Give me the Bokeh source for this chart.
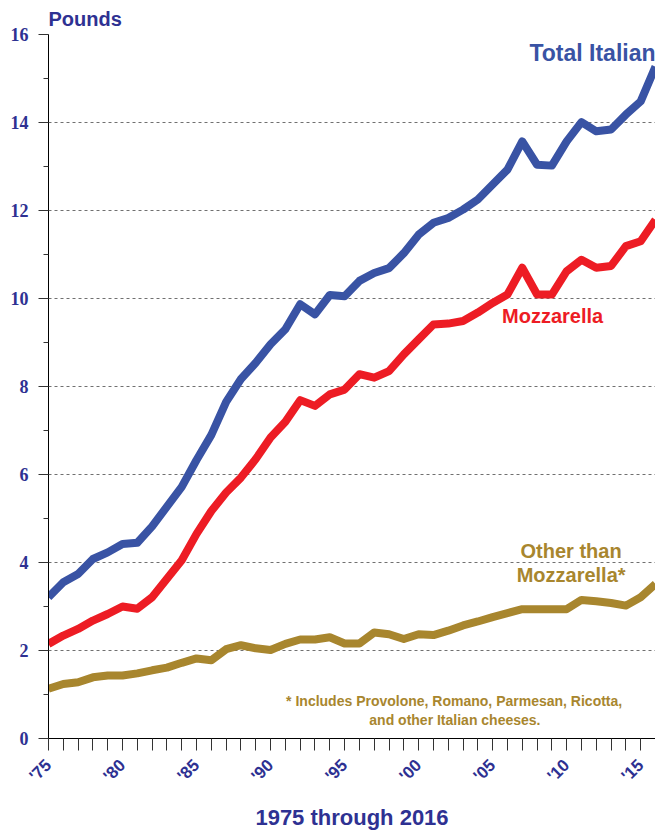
import math
from bokeh.plotting import figure
from bokeh.models import FixedTicker, SingleIntervalTicker, Label, Range1d
from bokeh.embed import file_html
from bokeh.resources import INLINE

# ---- data (pounds per person) ----
years = list(range(1975, 2017))
total_italian = [3.21, 3.55, 3.74, 4.08, 4.23, 4.42, 4.45, 4.82, 5.27, 5.72, 6.33, 6.90,
                 7.65, 8.17, 8.54, 8.96, 9.30, 9.87, 9.64, 10.08, 10.05, 10.40,
                 10.58, 10.69, 11.03, 11.45, 11.72, 11.83, 12.02, 12.25, 12.59, 12.93,
                 13.57, 13.04, 13.02, 13.57, 14.01, 13.80, 13.84, 14.18, 14.48, 15.27]
mozzarella = [2.15, 2.34, 2.49, 2.68, 2.83, 3.00, 2.95, 3.21, 3.63, 4.05, 4.65, 5.17,
              5.59, 5.93, 6.35, 6.84, 7.20, 7.69, 7.56, 7.82, 7.93, 8.28,
              8.20, 8.35, 8.73, 9.07, 9.41, 9.43, 9.49, 9.68, 9.90, 10.09,
              10.70, 10.09, 10.09, 10.62, 10.88, 10.70, 10.74, 11.19, 11.30, 11.79]
other_than_mozz = [1.13, 1.24, 1.28, 1.39, 1.43, 1.43, 1.48, 1.55, 1.61, 1.72, 1.82, 1.78,
                   2.03, 2.12, 2.05, 2.01, 2.15, 2.25, 2.25, 2.30, 2.16, 2.16,
                   2.41, 2.37, 2.26, 2.37, 2.35, 2.45, 2.57, 2.66, 2.76, 2.85,
                   2.94, 2.94, 2.94, 2.94, 3.15, 3.12, 3.08, 3.02, 3.21, 3.51]
x_tick_labels = {1975: "'75", 1980: "'80", 1985: "'85", 1990: "'90", 1995: "'95",
                 2000: "'00", 2005: "'05", 2010: "'10", 2015: "'15"}

NAVY = "#2e3192"
BLUE = "#3953a4"
RED = "#ed1c24"
GOLD = "#a8862e"
SANS = "Liberation Sans"

p = figure(width=655, height=836, x_range=Range1d(1975, 2016), y_range=Range1d(0, 16),
           output_backend="svg", toolbar_location=None,
           min_border_left=48, min_border_right=0, min_border_top=33, min_border_bottom=98)
p.outline_line_color = None
p.background_fill_color = "white"
p.border_fill_color = "white"

# "Pounds" unit label as a left-aligned title above the frame
p.title.text = "Pounds"
p.title.align = "left"
p.title.offset = 0
p.title.standoff = 10
p.title.text_font = SANS
p.title.text_font_style = "bold"
p.title.text_font_size = "20px"
p.title.text_color = NAVY

# lines
p.line(years, other_than_mozz, line_width=8, line_color=GOLD, line_join="round")
p.line(years, mozzarella, line_width=8, line_color=RED, line_join="round")
p.line(years, total_italian, line_width=8, line_color=BLUE, line_join="round")

# grid
p.xgrid.grid_line_color = None
p.ygrid.grid_line_color = "#707070"
p.ygrid.grid_line_dash = "3 3"
p.ygrid.grid_line_width = 1

# y axis
ya = p.yaxis[0]
ya.ticker = SingleIntervalTicker(interval=2, num_minor_ticks=2)
ya.axis_line_color = "black"
ya.major_tick_in = 0
ya.major_tick_out = 10
ya.minor_tick_in = 0
ya.minor_tick_out = 5
ya.major_tick_line_color = "#333333"
ya.minor_tick_line_color = "#333333"
ya.major_label_standoff = 10
ya.major_label_text_font = "Liberation Serif"
ya.major_label_text_font_style = "bold"
ya.major_label_text_font_size = "18px"
ya.major_label_text_color = NAVY

# x axis
xa = p.xaxis[0]
xa.ticker = FixedTicker(ticks=years, minor_ticks=[])
xa.major_label_overrides = {y: x_tick_labels.get(y, "") for y in years}
xa.major_label_orientation = math.pi / 4
xa.axis_line_color = "black"
xa.major_tick_in = 0
xa.major_tick_out = 12
xa.major_tick_line_color = "#333333"
xa.major_label_standoff = 12
xa.major_label_text_font = SANS
xa.major_label_text_font_style = "bold"
xa.major_label_text_font_size = "17px"
xa.major_label_text_color = NAVY
xa.axis_label = "1975 through 2016"
xa.axis_label_text_font = SANS
xa.axis_label_text_font_style = "bold"
xa.axis_label_text_font_size = "22px"
xa.axis_label_text_color = NAVY
xa.axis_label_standoff = 10

def lab(x, y, text, color, size, align="center"):
    p.add_layout(Label(x=x, y=y, text=text, text_color=color, text_font=SANS,
                       text_font_style="bold", text_font_size=size,
                       text_align=align, text_baseline="middle"))

lab(2016, 15.59, "Total Italian", BLUE, "23px", "right")
lab(2009.05, 9.6, "Mozzarella", RED, "20px")
lab(2010.3, 4.27, "Other than", GOLD, "20px")
lab(2010.3, 3.72, "Mozzarella*", GOLD, "20px")
lab(2002.4, 0.86, "* Includes Provolone, Romano, Parmesan, Ricotta,", GOLD, "14px")
lab(2002.45, 0.43, "and other Italian cheeses.", GOLD, "14px")

open("out.html", "w").write(file_html(p, INLINE))
